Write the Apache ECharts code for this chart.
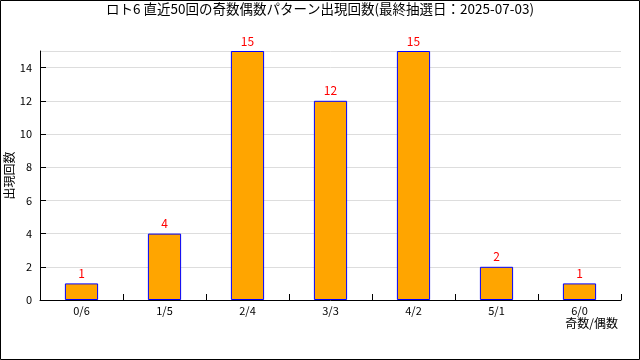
<!DOCTYPE html>
<html>
<head>
<meta charset="utf-8">
<script src="https://cdn.jsdelivr.net/npm/echarts@6/dist/echarts.min.js"></script>
<style>
  html, body { margin: 0; padding: 0; background: #fff; }
  #chart { width: 640px; height: 360px; }
</style>
</head>
<body>
<div id="chart"></div>
<script>
// Odd/even pattern counts over the last 50 Loto6 draws
const patterns = ['0/6', '1/5', '2/4', '3/3', '4/2', '5/1', '6/0'];
const counts = [1, 4, 15, 12, 15, 2, 1];
const yTicks = [0, 2, 4, 6, 8, 10, 12, 14];
const xAxisName = '奇数/偶数';

const FONT = '"Noto Sans CJK JP", "DejaVu Sans", sans-serif';

const chart = echarts.init(document.getElementById('chart'), null, { renderer: 'canvas' });
chart.setOption({
  backgroundColor: '#fff',
  animation: false,
  textStyle: { fontFamily: FONT },
  title: {
    text: 'ロト6 直近50回の奇数偶数パターン出現回数(最終抽選日：2025-07-03)',
    left: 'center',
    top: 2,
    padding: 0,
    textStyle: { fontFamily: FONT, fontSize: 13.5, fontWeight: 'normal', color: '#000' }
  },
  graphic: [
    {
      // frame around the whole chart
      type: 'rect',
      shape: { x: 0.5, y: 0.5, width: 639, height: 359 },
      style: { fill: null, stroke: '#000', lineWidth: 1 },
      silent: true,
      z: 100
    },
    {
      // x-axis title, right-aligned under the last category label
      type: 'text',
      right: 22,
      top: 317,
      style: { text: xAxisName, font: '12px ' + FONT, fill: '#000' },
      silent: true
    }
  ],
  grid: { left: 40, right: 19, top: 51, bottom: 60, outerBoundsMode: 'none', containLabel: false },
  xAxis: {
    type: 'category',
    data: patterns,
    axisLine: { lineStyle: { color: '#000', width: 1 } },
    axisTick: { show: true, inside: true, length: 6, alignWithLabel: false, lineStyle: { color: '#000' } },
    axisLabel: { fontFamily: FONT, fontSize: 11, color: '#000', margin: 5 },
    splitLine: { show: false }
  },
  yAxis: {
    type: 'value',
    min: 0,
    max: 15,
    interval: 2,
    name: '出現回数',
    nameLocation: 'middle',
    nameGap: 25,
    nameMoveOverlap: false,
    nameTextStyle: { fontFamily: FONT, fontSize: 12, color: '#000' },
    axisLine: { show: true, lineStyle: { color: '#000', width: 1 } },
    axisTick: { show: true, inside: true, length: 6, lineStyle: { color: '#000' } },
    axisLabel: {
      fontFamily: FONT, fontSize: 11, color: '#000', margin: 8,
      showMaxLabel: false,
      formatter: v => (yTicks.indexOf(v) >= 0 ? String(v) : '')
    },
    splitLine: { show: true, lineStyle: { color: '#dddddd', width: 1 } }
  },
  series: [{
    type: 'bar',
    data: counts,
    barWidth: '40%',
    itemStyle: { color: '#FFA500', borderColor: '#0000FF', borderWidth: 1 },
    label: {
      show: true,
      position: 'top',
      distance: 4,
      color: '#FF0000',
      fontFamily: FONT,
      fontSize: 12
    }
  }]
});
</script>
</body>
</html>
